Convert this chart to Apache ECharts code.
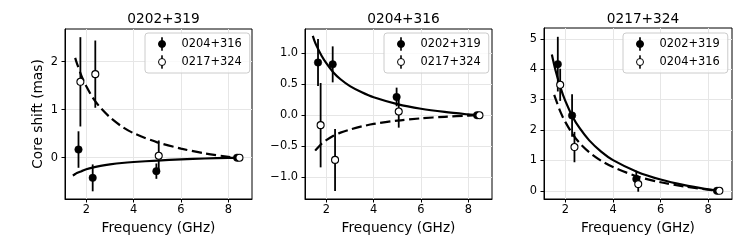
<!DOCTYPE html>
<html>
<head>
<meta charset="utf-8">
<script src="https://cdn.jsdelivr.net/npm/echarts@6/dist/echarts.min.js"></script>
<style>html,body{margin:0;padding:0;background:#fff;}#c{width:747px;height:249px;}</style>
</head>
<body>
<div id="c"></div>
<script>
// ---------- data ----------
const panelTitles = ['0202+319', '0204+316', '0217+324'];
const xTicks = [2, 4, 6, 8];
const yTicks1 = [0, 1, 2];
const yTicks2 = [-1, -0.5, 0, 0.5, 1];
const yTicks3 = [0, 1, 2, 3, 4, 5];

// panel 1 : 0202+319
const p1FilledName = '0204+316';
const p1FilledFreq = [1.67, 2.27, 4.96, 8.37];
const p1FilledShift = [0.17, -0.42, -0.28, 0];
const p1FilledErr = [0.38, 0.28, 0.16, 0.02];
const p1OpenName = '0217+324';
const p1OpenFreq = [1.75, 2.38, 5.06, 8.47];
const p1OpenShift = [1.58, 1.74, 0.04, 0];
const p1OpenErr = [0.93, 0.70, 0.32, 0.02];

// panel 2 : 0204+316
const p2FilledName = '0202+319';
const p2FilledFreq = [1.65, 2.27, 4.97, 8.37];
const p2FilledShift = [0.85, 0.82, 0.295, 0];
const p2FilledErr = [0.38, 0.29, 0.15, 0.02];
const p2OpenName = '0217+324';
const p2OpenFreq = [1.76, 2.37, 5.06, 8.47];
const p2OpenShift = [-0.16, -0.72, 0.06, 0];
const p2OpenErr = [0.68, 0.50, 0.26, 0.02];

// panel 3 : 0217+324
const p3FilledName = '0202+319';
const p3FilledFreq = [1.68, 2.28, 4.98, 8.37];
const p3FilledShift = [4.17, 2.48, 0.39, 0];
const p3FilledErr = [0.9, 0.7, 0.27, 0.02];
const p3OpenName = '0204+316';
const p3OpenFreq = [1.78, 2.38, 5.06, 8.47];
const p3OpenShift = [3.49, 1.44, 0.22, 0];
const p3OpenErr = [0.53, 0.5, 0.25, 0.02];

// fitted curves
const solidFreq = [1.43, 1.5, 1.6, 1.8, 2.0, 2.3, 2.6, 3.0, 3.5, 4.0, 5.0, 6.0, 7.0, 8.0, 8.4];
const p1Solid = [-0.37, -0.35, -0.32, -0.28, -0.24, -0.20, -0.17, -0.14, -0.11, -0.09, -0.06, -0.035, -0.017, -0.004, 0];
const p2Solid = [1.28, 1.20, 1.11, 0.96, 0.84, 0.69, 0.58, 0.47, 0.37, 0.29, 0.18, 0.105, 0.053, 0.013, 0];
const p3Solid = [4.49, 4.24, 3.92, 3.38, 2.95, 2.44, 2.06, 1.66, 1.29, 1.01, 0.63, 0.37, 0.185, 0.046, 0];
const dashFreq = [1.53, 1.6, 1.8, 2.0, 2.3, 2.6, 3.0, 3.5, 4.0, 5.0, 6.0, 7.0, 8.0, 8.4];
const p1Dash = [2.08, 1.97, 1.70, 1.49, 1.23, 1.04, 0.84, 0.65, 0.51, 0.32, 0.19, 0.09, 0.02, 0];
const p2Dash = [-0.57, -0.54, -0.46, -0.40, -0.33, -0.28, -0.23, -0.18, -0.14, -0.086, -0.05, -0.025, -0.006, 0];
const p3Dash = [3.16, 3.0, 2.58, 2.26, 1.87, 1.57, 1.27, 0.99, 0.78, 0.48, 0.28, 0.14, 0.036, 0];

// ---------- build ----------
const FONT = 'DejaVu Sans';
const zip = (a, b) => a.map((v, i) => [v, b[i]]);
const zip3 = (a, b, c) => a.map((v, i) => [v, b[i], c[i]]);
const minus = s => String(s).replace('-', '\u2212');

const panels = [
  { left: 65, top: 29, width: 187, height: 170, ymin: -0.86, ymax: 2.68, yTicks: yTicks1, fmt: v => minus(v),
    fName: p1FilledName, f: zip3(p1FilledFreq, p1FilledShift, p1FilledErr),
    oName: p1OpenName, o: zip3(p1OpenFreq, p1OpenShift, p1OpenErr),
    solid: zip(solidFreq, p1Solid), dash: zip(dashFreq, p1Dash), legLeft: 145 },
  { left: 305, top: 29, width: 187, height: 170, ymin: -1.35, ymax: 1.39, yTicks: yTicks2, fmt: v => minus(Number(v).toFixed(1)),
    fName: p2FilledName, f: zip3(p2FilledFreq, p2FilledShift, p2FilledErr),
    oName: p2OpenName, o: zip3(p2OpenFreq, p2OpenShift, p2OpenErr),
    solid: zip(solidFreq, p2Solid), dash: zip(dashFreq, p2Dash), legLeft: 384 },
  { left: 544, top: 28, width: 188, height: 171, ymin: -0.27, ymax: 5.36, yTicks: yTicks3, fmt: v => minus(v),
    fName: p3FilledName, f: zip3(p3FilledFreq, p3FilledShift, p3FilledErr),
    oName: p3OpenName, o: zip3(p3OpenFreq, p3OpenShift, p3OpenErr),
    solid: zip(solidFreq, p3Solid), dash: zip(dashFreq, p3Dash), legLeft: 623 }
];

const ICON = 'path://M0,6.5 L0,6.5 M10.5,3 A3.5,3.5 0 1,1 10.5,10 A3.5,3.5 0 1,1 10.5,3 Z M10.3,0 L10.7,0 L10.7,3 L10.3,3 Z M10.3,10 L10.7,10 L10.7,13 L10.3,13 Z M25,6.5 L25,6.5';

const errRender = (params, api) => {
  const x = api.value(0), y = api.value(1), e = api.value(2);
  const p1 = api.coord([x, y - e]), p2 = api.coord([x, y + e]);
  return { type: 'line', shape: { x1: p1[0], y1: p1[1], x2: p2[0], y2: p2[1] },
           style: { stroke: '#000', lineWidth: 1.8 } };
};

const grid = [], xAxis = [], yAxis = [], series = [], title = [], legend = [];
panels.forEach((p, i) => {
  grid.push({ left: p.left, top: p.top, width: p.width, height: p.height, show: true,
              borderColor: '#000', borderWidth: 1, backgroundColor: '#fff', containLabel: false });
  xAxis.push({ type: 'value', gridIndex: i, min: 1.1, max: 9.0,
    name: 'Frequency (GHz)', nameLocation: 'middle', nameGap: 22,
    nameTextStyle: { fontFamily: FONT, fontSize: 13.7, color: '#000' },
    axisLine: { show: true, onZero: false, lineStyle: { color: '#000', width: 1 } },
    axisTick: { show: true, inside: false, length: 3.5, lineStyle: { color: '#000' }, customValues: xTicks },
    axisLabel: { fontFamily: FONT, fontSize: 11.4, color: '#000', margin: 6, customValues: xTicks },
    splitLine: { show: true, lineStyle: { color: '#e6e6e6', width: 1 }, customValues: xTicks } });
  yAxis.push({ type: 'value', gridIndex: i, min: p.ymin, max: p.ymax,
    name: i === 0 ? 'Core shift (mas)' : '', nameLocation: 'middle', nameGap: 20,
    nameTextStyle: { fontFamily: FONT, fontSize: 13.7, color: '#000' },
    axisLine: { show: true, onZero: false, lineStyle: { color: '#000', width: 1 } },
    axisTick: { show: true, inside: false, length: 3.5, lineStyle: { color: '#000' }, customValues: p.yTicks },
    axisLabel: { fontFamily: FONT, fontSize: 11.4, color: '#000', margin: 7, customValues: p.yTicks, formatter: p.fmt },
    splitLine: { show: true, lineStyle: { color: '#e6e6e6', width: 1 }, customValues: p.yTicks } });
  title.push({ text: panelTitles[i], left: p.left + p.width / 2, top: 7, textAlign: 'center',
    textStyle: { fontFamily: FONT, fontSize: 13.7, fontWeight: 'normal', color: '#000' } });
  series.push({ type: 'line', xAxisIndex: i, yAxisIndex: i, data: p.solid, smooth: 0.3, showSymbol: false,
    symbol: 'none', lineStyle: { color: '#000', width: 2.2 }, z: 2, silent: true });
  series.push({ type: 'line', xAxisIndex: i, yAxisIndex: i, data: p.dash, smooth: 0.3, showSymbol: false,
    symbol: 'none', lineStyle: { color: '#000', width: 2.2, type: [10, 4.5] }, z: 2, silent: true });
  series.push({ type: 'custom', xAxisIndex: i, yAxisIndex: i, data: p.f, renderItem: errRender,
    encode: { x: 0, y: 1 }, z: 3, silent: true });
  series.push({ type: 'scatter', name: p.fName, xAxisIndex: i, yAxisIndex: i, data: p.f.map(d => [d[0], d[1]]),
    symbol: 'circle', symbolSize: 7.5, itemStyle: { color: '#000', borderColor: '#000', borderWidth: 0.5, opacity: 1 }, z: 4 });
  series.push({ type: 'custom', xAxisIndex: i, yAxisIndex: i, data: p.o, renderItem: errRender,
    encode: { x: 0, y: 1 }, z: 5, silent: true });
  series.push({ type: 'scatter', name: p.oName, xAxisIndex: i, yAxisIndex: i, data: p.o.map(d => [d[0], d[1]]),
    symbol: 'circle', symbolSize: 7, itemStyle: { color: '#fff', borderColor: '#000', borderWidth: 1.1, opacity: 1 }, z: 6 });
  legend.push({ left: p.legLeft, top: 33, orient: 'vertical', itemWidth: 25, itemHeight: 13, itemGap: 4,
    padding: [4, 8, 4, 6], backgroundColor: 'rgba(255,255,255,0.8)', borderColor: '#cccccc', borderWidth: 1, borderRadius: 3,
    selectedMode: false,
    textStyle: { fontFamily: FONT, fontSize: 11.4, color: '#000' },
    data: [
      { name: p.fName, icon: ICON, itemStyle: { color: '#000', borderColor: '#000', borderWidth: 1 } },
      { name: p.oName, icon: ICON, itemStyle: { color: '#fff', borderColor: '#000', borderWidth: 1 } }
    ] });
});

const chart = echarts.init(document.getElementById('c'), null, { renderer: 'canvas' });
chart.setOption({ animation: false, backgroundColor: '#fff', title, grid, xAxis, yAxis, legend, series });
</script>
</body>
</html>
